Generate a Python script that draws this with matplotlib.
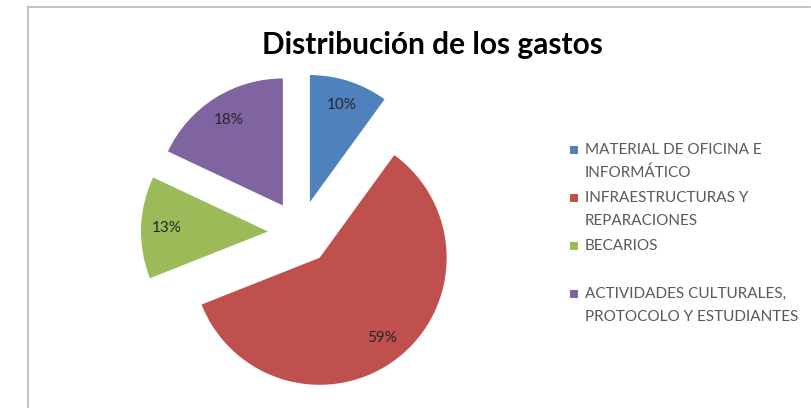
import matplotlib
matplotlib.use("Agg")
import matplotlib.pyplot as plt
from matplotlib.lines import Line2D
from matplotlib.patches import Rectangle

plt.rcParams['font.family'] = ['Lato', 'DejaVu Sans']

# ---- data ----
title = "Distribución de los gastos"
categories = [
    "MATERIAL DE OFICINA E\nINFORMÁTICO",
    "INFRAESTRUCTURAS Y\nREPARACIONES",
    "BECARIOS",
    "ACTIVIDADES CULTURALES,\nPROTOCOLO Y ESTUDIANTES",
]
values = [10, 59, 13, 18]
colors = ["#4F81BD", "#C0504D", "#9BBB59", "#8064A2"]

W, H = 811, 408
fig = plt.figure(figsize=(W / 100, H / 100), dpi=100)
fig.patch.set_facecolor("white")

def fx(px):
    return px / W

def fy(py):
    return (H - py) / H

# chart border (left and top edges visible)
fig.add_artist(Line2D([fx(27.5), fx(27.5)], [fy(6.5), fy(H + 2)],
                      transform=fig.transFigure, color="#BDBDBD", lw=1.3))
fig.add_artist(Line2D([fx(27.5), fx(810)], [fy(6.5), fy(6.5)],
                      transform=fig.transFigure, color="#BDBDBD", lw=1.3))

# pie axes
cx, cy, R = 300, 232.5, 127
half = 180
ax = fig.add_axes([fx(cx - half), fy(cy + half), 2 * half / W, 2 * half / H])
wedges, texts, autotexts = ax.pie(
    values, colors=colors, startangle=90, counterclock=False,
    explode=[0.252] * len(values), autopct='%1.0f%%', pctdistance=0.8,
    wedgeprops=dict(linewidth=0), textprops=dict(fontsize=11, color="#262626"))
lim = half / R
ax.set_xlim(-lim, lim)
ax.set_ylim(-lim, lim)
ax.axis("off")

# title
fig.text(fx(432), fy(54), title, ha="center", va="baseline",
         fontsize=21.5, fontweight="bold", color="#000000")

# legend (manual, Excel style)
leg_x_sq = 569.5
leg_x_txt = 585
sq = 8.5
first_line_y = [150, 198, 246, 294]
line_pitch = 23
for i, (lab, col) in enumerate(zip(categories, colors)):
    y0 = first_line_y[i]
    fig.add_artist(Rectangle((fx(leg_x_sq), fy(y0 + sq / 2)), sq / W, sq / H,
                             transform=fig.transFigure, facecolor=col,
                             edgecolor="none"))
    for j, line in enumerate(lab.split("\n")):
        fig.text(fx(leg_x_txt), fy(y0 + j * line_pitch), line, ha="left",
                 va="center", fontsize=11, color="#595959")

fig.savefig("out.png", dpi=100, facecolor="white")
